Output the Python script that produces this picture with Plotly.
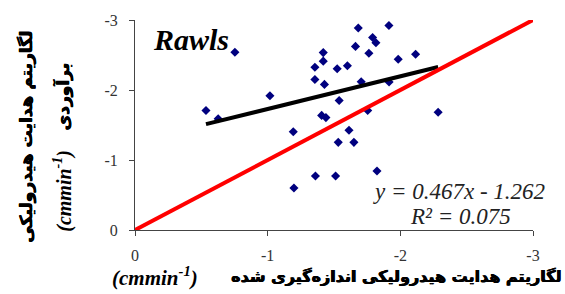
import plotly.graph_objects as go

# ---- data ----
measured = [-0.535, -0.627, -0.753, -1.017, -1.193, -1.198, -1.356, -1.356, -1.360, -1.407,
            -1.439, -1.419, -1.419, -1.428, -1.512, -1.524, -1.532, -1.539, -1.601, -1.613,
            -1.650, -1.662, -1.683, -1.705, -1.754, -1.763, -1.791, -1.816, -1.824, -1.914,
            -1.915, -1.984, -2.115, -2.285]
estimated = [-1.707, -1.589, -2.539, -1.917, -1.403, -0.599, -2.324, -2.150, -0.771, -1.637,
             -1.606, -2.534, -2.412, -2.080, -0.771, -2.304, -1.252, -1.851, -2.346, -1.426,
             -1.252, -2.623, -2.885, -2.118, -1.707, -2.525, -2.749, -2.675, -0.842, -2.922,
             -2.115, -2.440, -2.511, -1.683]
trend_slope = 0.467
trend_intercept = -1.262
r_squared = 0.075
one_to_one = [0, -3]
tick_vals = [0, -1, -2, -3]
tick_text = ["0", "-1", "-2", "-3"]
model_name = "Rawls"

# ---- geometry helpers (pixel -> paper) ----
L, R, T, B, W, H = 135, 32, 16, 64, 565, 294
PW, PH = W - L - R, H - T - B
def px(x):
    return (x - L) / PW
def py(y):
    return (H - B - y) / PH

trend_x = [max(measured), min(measured)]
trend_y = [trend_slope * v + trend_intercept for v in trend_x]

fig = go.Figure()
fig.add_trace(go.Scatter(x=measured, y=estimated, mode="markers",
                         marker=dict(symbol="diamond", size=7, color="#00007f"),
                         showlegend=False, hoverinfo="skip"))
fig.add_trace(go.Scatter(x=trend_x, y=trend_y, mode="lines",
                         line=dict(color="black", width=4), showlegend=False, hoverinfo="skip"))
fig.add_trace(go.Scatter(x=one_to_one, y=one_to_one, mode="lines",
                         line=dict(color="#ff0000", width=4), showlegend=False,
                         hoverinfo="skip", cliponaxis=False))

axis_common = dict(range=[0, -3], tickvals=tick_vals, ticktext=tick_text,
                   showgrid=False, zeroline=False, showline=True, linecolor="#444",
                   linewidth=1, ticks="outside", ticklen=5, tickcolor="#444",
                   tickfont=dict(family="Liberation Serif", size=16, color="#333"))
fig.update_xaxes(**axis_common, ticklabelstandoff=6)
fig.update_yaxes(**axis_common, ticklabelstandoff=8)

serif = "Liberation Serif"
fa = "DejaVu Sans"
fa_bold = "0.6px 0 0 #000, -0.3px 0 0 #000"
ann = [
    dict(x=px(191), y=py(36), text="<b><i>" + model_name + "</i></b>",
         font=dict(family=serif, size=30, color="black")),
    dict(x=px(459), y=py(191),
         text="<i>y = %.3fx - %.3f</i>" % (trend_slope, abs(trend_intercept)),
         font=dict(family=serif, size=23, color="#222")),
    dict(x=px(460), y=py(216), text="<i>R² = %.3f</i>" % r_squared,
         font=dict(family=serif, size=23, color="#222")),
    dict(x=px(155), y=py(277), text="<b><i>(cmmin<sup>-1</sup>)</i></b>",
         font=dict(family=serif, size=21, color="black")),
    dict(x=px(563), y=py(277), xanchor="right",
         text="<b>لگاریتم هدایت هیدرولیکی اندازه‌گیری شده</b>",
         font=dict(family=fa, size=16, color="black", shadow=fa_bold)),
    dict(x=px(27), y=py(135), textangle=-90,
         text="<b>لگاریتم هدایت هیدرولیکی</b>",
         font=dict(family=fa, size=17, color="black", shadow=fa_bold)),
    dict(x=px(63), y=py(95), textangle=-90, text="<b>برآوردی</b>",
         font=dict(family=fa, size=17, color="black", shadow=fa_bold)),
    dict(x=px(63), y=py(190), textangle=-90, text="<b><i>(cmmin<sup>-1</sup>)</i></b>",
         font=dict(family=serif, size=20, color="black")),
]
for a in ann:
    a.setdefault("xanchor", "center")
    a.update(xref="paper", yref="paper", showarrow=False, yanchor="middle")
fig.update_layout(annotations=ann)

fig.update_layout(width=W, height=H, margin=dict(l=L, r=R, t=T, b=B),
                  paper_bgcolor="white", plot_bgcolor="white")
fig.write_html("out.html", config={"displayModeBar": False},
               post_script="document.body.style.margin='0';document.body.style.overflow='hidden';")
